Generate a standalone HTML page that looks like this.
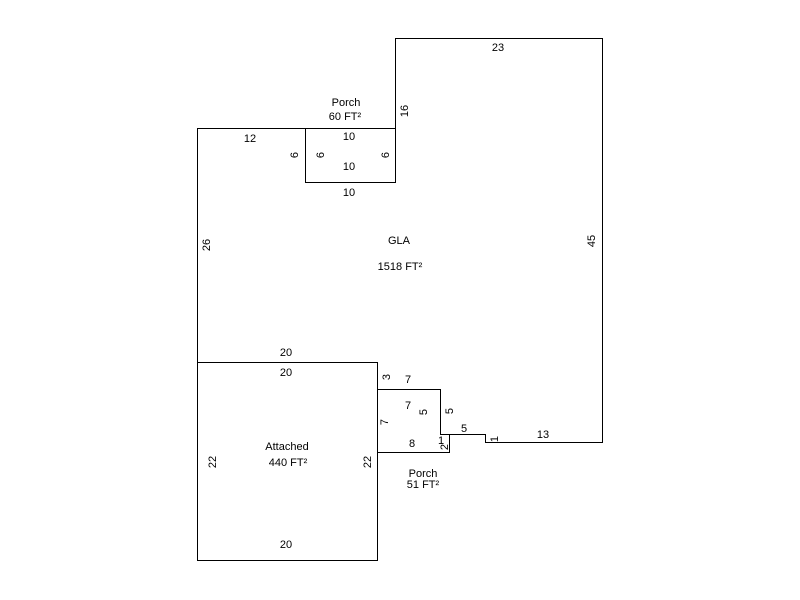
<!DOCTYPE html>
<html><head><style>body{margin:0;background:#fff}svg{display:block}text{font-family:"Liberation Sans",Arial,sans-serif;font-size:11px;fill:#000}</style></head><body>
<svg width="800" height="600" viewBox="0 0 800 600">
<g fill="none" stroke="#000" stroke-width="1" shape-rendering="crispEdges">
<path d="M197.5 128.5 H395.5 V38.5 H602.5 V442.5 H485.5 V434.5 H440.5 V389.5 H377.5 V362.5 H197.5 Z"/>
<rect x="305.5" y="128.5" width="90" height="54"/>
<rect x="197.5" y="362.5" width="180" height="198"/>
<path d="M377.5 389.5 V452.5 H449.5 V434.5 H440.5"/>
</g>
<g text-anchor="middle">
<text x="498" y="51">23</text>
<text x="346" y="106">Porch</text>
<text x="345" y="120">60 FT²</text>
<text x="250" y="142">12</text>
<text x="349" y="140">10</text>
<text x="349" y="170">10</text>
<text x="349" y="196">10</text>
<text x="399" y="244">GLA</text>
<text x="400" y="270">1518 FT²</text>
<text x="286" y="356">20</text>
<text x="286" y="376">20</text>
<text x="408" y="383">7</text>
<text x="408" y="409">7</text>
<text x="412" y="447">8</text>
<text x="464" y="432">5</text>
<text x="543" y="438">13</text>
<text x="287" y="450">Attached</text>
<text x="288" y="466">440 FT²</text>
<text x="423" y="477">Porch</text>
<text x="423" y="488">51 FT²</text>
<text x="286" y="548">20</text>
<text x="441" y="444">1</text>
</g>
<g text-anchor="middle">
<text transform="translate(408,111) rotate(-90)">16</text>
<text transform="translate(298,155) rotate(-90)">6</text>
<text transform="translate(324,155) rotate(-90)">6</text>
<text transform="translate(389,155) rotate(-90)">6</text>
<text transform="translate(210,245) rotate(-90)">26</text>
<text transform="translate(595,241) rotate(-90)">45</text>
<text transform="translate(390,377) rotate(-90)">3</text>
<text transform="translate(427,412) rotate(-90)">5</text>
<text transform="translate(453,411) rotate(-90)">5</text>
<text transform="translate(388,422) rotate(-90)">7</text>
<text transform="translate(448,447) rotate(-90)">2</text>
<text transform="translate(498,439) rotate(-90)">1</text>
<text transform="translate(216,462) rotate(-90)">22</text>
<text transform="translate(371,462) rotate(-90)">22</text>
</g>
</svg>
</body></html>
